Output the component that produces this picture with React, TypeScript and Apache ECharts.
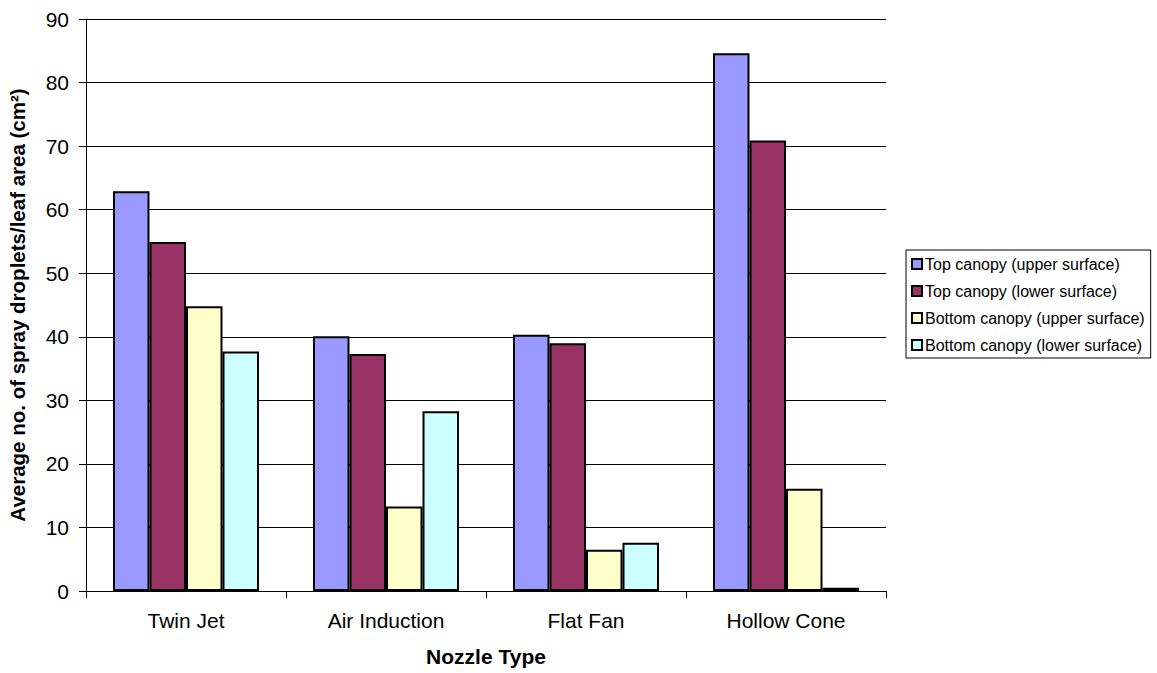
import React, { useEffect, useRef } from "react";
import * as echarts from "echarts";

const categories = ["Twin Jet", "Air Induction", "Flat Fan", "Hollow Cone"];
const seriesNames = [
  "Top canopy (upper surface)",
  "Top canopy (lower surface)",
  "Bottom canopy (upper surface)",
  "Bottom canopy (lower surface)",
];
const topUpper = [62.9, 40.1, 40.3, 84.6];
const topLower = [54.9, 37.3, 39.0, 70.9];
const bottomUpper = [44.8, 13.3, 6.5, 16.1];
const bottomLower = [37.7, 28.3, 7.6, 0.5];
const seriesValues = [topUpper, topLower, bottomUpper, bottomLower];
const seriesColors = ["#9999FF", "#993366", "#FFFFCC", "#CCFFFF"];

const FONT = "Arial, 'Liberation Sans', sans-serif";

export default function App() {
  const ref = useRef<HTMLDivElement>(null);

  useEffect(() => {
    if (!ref.current) return;
    const chart = echarts.init(ref.current, undefined, { renderer: "svg" });
    chart.setOption({
      animation: false,
      backgroundColor: "#ffffff",
      textStyle: { fontFamily: FONT },
      grid: { left: 86, right: 271, top: 19, bottom: 82, containLabel: false, outerBoundsMode: "none" },
      legend: {
        orient: "vertical",
        left: 906,
        top: 250,
        itemWidth: 10,
        itemHeight: 10,
        itemGap: 11,
        padding: [6, 6, 5, 5],
        borderColor: "#000",
        borderWidth: 1,
        icon: "rect",
        textStyle: { fontFamily: FONT, fontSize: 16, color: "#000", padding: [0, 0, 0, -2] },
        data: seriesNames,
      },
      xAxis: {
        type: "category",
        data: categories,
        name: "Nozzle Type",
        nameLocation: "middle",
        nameGap: 55,
        nameTextStyle: { fontFamily: FONT, fontSize: 21, fontWeight: "bold", color: "#000" },
        axisLine: { lineStyle: { color: "#000", width: 1 } },
        axisTick: { show: true, length: 7, lineStyle: { color: "#000" } },
        axisLabel: { fontFamily: FONT, fontSize: 21, color: "#000", margin: 19 },
      },
      yAxis: {
        type: "value",
        min: 0,
        max: 90,
        interval: 10,
        name: "Average no. of spray droplets/leaf area (cm²)",
        nameLocation: "middle",
        nameGap: 58,
        nameTextStyle: { fontFamily: FONT, fontSize: 20.5, fontWeight: "bold", color: "#000" },
        axisLine: { show: true, lineStyle: { color: "#000", width: 1 } },
        axisTick: { show: true, length: 7, lineStyle: { color: "#000" } },
        axisLabel: { fontFamily: FONT, fontSize: 21, color: "#000", margin: 17 },
        splitLine: { show: true, lineStyle: { color: "#000", width: 1 } },
      },
      series: seriesNames.map((name, i) => ({
        name,
        type: "bar",
        data: seriesValues[i],
        barGap: "0%",
        barCategoryGap: "27%",
        itemStyle: { color: seriesColors[i], borderColor: "#000", borderWidth: 2 },
      })),
    });
    return () => chart.dispose();
  }, []);

  return <div ref={ref} style={{ width: 1157, height: 673, position: "absolute", left: 0, top: 0 }} />;
}
